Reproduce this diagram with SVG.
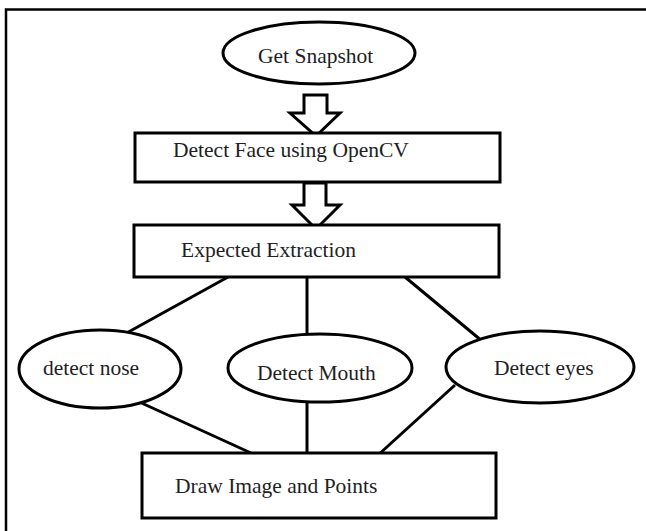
<svg xmlns="http://www.w3.org/2000/svg" width="646" height="531" viewBox="0 0 646 531">
<style>
.shape{fill:#fff;stroke:#000;stroke-width:3}
.conn{stroke:#000;stroke-width:3;fill:none}
.arrow{fill:#fff;stroke:#000;stroke-width:3;stroke-linejoin:miter}
text{font-family:"Liberation Serif","Times New Roman",serif;font-size:21.5px;fill:#1e1e24}
</style>
<rect width="646" height="531" fill="#fff"/>
<path d="M6,531 V9.5 H646" fill="none" stroke="#000" stroke-width="2.5"/>
<g id="connectors">
<polygon class="arrow" points="304,95 327,95 327,113 340,113 316,136 290,113 304,113"/>
<polygon class="arrow" points="304,183 326,183 326,205 340,205 316,229 292,205 304,205"/>
<line class="conn" x1="228" y1="277" x2="123" y2="335"/>
<line class="conn" x1="307" y1="277" x2="307" y2="338"/>
<line class="conn" x1="405" y1="277" x2="488" y2="346"/>
<line class="conn" x1="135" y1="400" x2="251" y2="453"/>
<line class="conn" x1="307" y1="398" x2="307" y2="459"/>
<line class="conn" x1="455" y1="385" x2="377" y2="456"/>
</g>
<g id="get-snapshot">
<ellipse class="shape" cx="319" cy="53" rx="96" ry="31"/>
<text x="258" y="63">Get Snapshot</text>
</g>
<g id="detect-face">
<rect class="shape" x="135" y="133" width="365" height="49"/>
<text x="173" y="157">Detect Face using OpenCV</text>
</g>
<g id="expected-extraction">
<rect class="shape" x="134" y="225" width="365" height="52"/>
<text x="181" y="257">Expected Extraction</text>
</g>
<g id="detect-nose">
<ellipse class="shape" cx="100" cy="369" rx="81" ry="39"/>
<text x="43" y="375">detect nose</text>
</g>
<g id="detect-mouth">
<ellipse class="shape" cx="320" cy="368" rx="92" ry="34"/>
<text x="257" y="380">Detect Mouth</text>
</g>
<g id="detect-eyes">
<ellipse class="shape" cx="540" cy="367" rx="94" ry="36"/>
<text x="494" y="375">Detect eyes</text>
</g>
<g id="draw-image">
<rect class="shape" x="142" y="453" width="354" height="65"/>
<text x="175" y="493">Draw Image and Points</text>
</g>
</svg>
